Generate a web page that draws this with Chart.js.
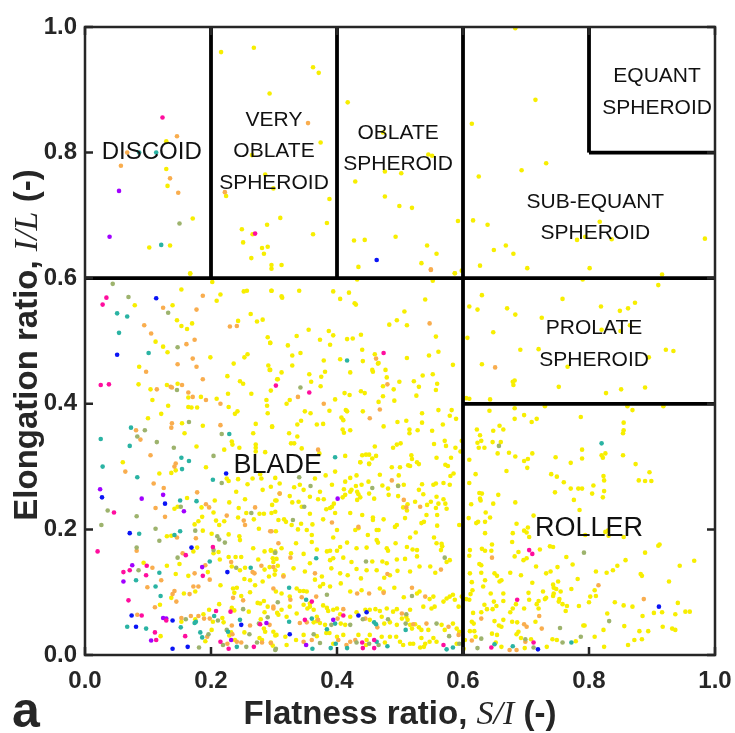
<!DOCTYPE html>
<html>
<head>
<meta charset="utf-8">
<script src="https://cdn.jsdelivr.net/npm/chart.js@4/dist/chart.umd.min.js"></script>
<style>html,body{margin:0;padding:0;background:#fff}</style>
</head>
<body>
<canvas id="chart" width="735" height="733"></canvas>
<script>
// [S/I, I/L] pairs, one array per marker colour

const yellowPts = [
  // discoid / very oblate / oblate / sub-equant / prolate
  [.129,.818],[.129,.774],[.131,.747],[.171,.695],[.102,.649],[.135,.652],[.167,.608],
  [.216,.960],[.268,.967],[.362,.936],[.371,.927],[.293,.894],[.374,.816],[.265,.796],[.286,.765],[.224,.731],[.299,.743],[.388,.726],[.310,.696],[.289,.685],[.384,.688],[.249,.678],[.266,.670],[.362,.670],[.251,.657],[.281,.648],[.290,.650],[.284,.639],[.264,.632],[.296,.621],[.296,.615],[.312,.621],
  [.417,.880],[.473,.832],[.545,.797],[.551,.795],[.476,.770],[.502,.767],[.429,.754],[.476,.730],[.499,.715],[.519,.712],[.592,.691],[.427,.660],[.444,.661],[.493,.666],[.543,.652],[.558,.639],[.534,.624],[.434,.618],[.587,.608],[.598,.612],
  [.614,.846],[.616,.692],[.625,.762],[.683,.998],[.715,.884],[.693,.772],[.732,.783],[.639,.685],[.817,.690],[.781,.661],[.794,.666],[.836,.662],[.984,.663],[.649,.645],[.668,.652],[.680,.639],[.627,.620],[.702,.616],[.801,.616],[.916,.606],
  [.630,.573],[.610,.555],[.623,.550],[.670,.552],[.683,.542],[.758,.567],[.819,.555],[.849,.548],[.862,.552],[.873,.561],[.910,.589],[.790,.598],[.725,.537],[.648,.514],[.607,.505],[.820,.518],[.850,.516],[.865,.525],[.691,.486],[.720,.487],[.922,.486],[.934,.484],[.630,.463],[.766,.459],[.679,.435],[.682,.437],[.680,.430],[.752,.427],[.827,.417],[.851,.423],[.889,.426],[.895,.474],[.605,.409],[.610,.408],[.643,.407],
  // roller
  [.642,.389],[.682,.393],[.730,.396],[.697,.382],[.717,.376],[.709,.371],[.682,.376],[.787,.379],[.855,.370],[.855,.358],[.854,.353],[.861,.396],[.869,.390],[.918,.396],[.622,.359],[.627,.350],[.648,.357],[.658,.365],[.664,.359],[.629,.341],[.623,.338],[.647,.339],[.660,.339],[.625,.330],[.634,.330],[.673,.322],[.683,.316],[.655,.321],[.697,.309],[.703,.312],[.710,.321],[.702,.298],[.610,.311],[.669,.293],[.747,.315],[.771,.306],[.789,.327],[.789,.313],[.820,.318],[.826,.321],[.822,.314],[.854,.318],[.874,.304],[.740,.288],[.749,.284],[.760,.275],[.823,.285],[.824,.278],[.879,.278],[.889,.277],[.899,.277],[.896,.291],[.620,.288],[.610,.274],[.746,.259],[.771,.265],[.783,.265],[.789,.265],[.807,.270],[.824,.261],[.805,.257],[.822,.251],[.776,.247],[.785,.231],[.626,.258],[.630,.257],[.627,.249],[.628,.246],[.648,.241],[.656,.255],[.683,.243],[.613,.240],[.609,.218],[.624,.212],[.635,.212],[.643,.219],[.636,.227],[.621,.210],[.685,.209],[.697,.198],[.701,.195],[.705,.188],[.703,.203],[.712,.222],[.826,.196],[.831,.190],[.830,.198],[.794,.191],[.855,.188],[.912,.176],[.910,.174],[.889,.163],[.722,.168],[.738,.173],[.743,.172],[.630,.169],[.635,.166],[.645,.166],[.688,.164],[.682,.157],[.701,.154],[.696,.151],[.610,.158],[.626,.145],[.629,.143],[.716,.141],[.750,.140],[.774,.144],[.764,.156],[.811,.133],[.828,.131],[.838,.135],[.845,.142],[.858,.151],[.882,.129],[.884,.126],[.927,.117],[.944,.142],[.967,.150],[.732,.130],[.739,.133],[.743,.112],[.744,.107],[.744,.098],[.751,.117],[.752,.085],[.772,.105],[.782,.121],[.809,.103],[.802,.093],[.811,.094],[.800,.084],[.841,.084],[.855,.079],[.869,.077],[.885,.062],[.903,.067],[.916,.068],[.941,.083],[.937,.065],[.953,.069],[.960,.069],[.917,.045],[.932,.042],[.937,.040],[.880,.038],[.884,.025],[.894,.038],[.872,.024],[.862,.016],[.856,.046],[.823,.040],[.829,.066],[.809,.029],[.824,.013],[.779,.022],[.763,.070],[.765,.078],[.753,.089],[.758,.081],[.730,.089],[.720,.086],[.717,.081],[.720,.074],[.715,.053],[.742,.025],[.749,.024],[.733,.013],[.697,.074],[.705,.088],[.684,.081],[.679,.074],[.675,.068],[.664,.086],[.649,.085],[.653,.078],[.647,.073],[.638,.073],[.634,.080],[.629,.068],[.616,.067],[.614,.053],[.617,.050],[.611,.038],[.618,.038],[.620,.029],[.646,.034],[.654,.032],[.657,.047],[.661,.045],[.664,.056],[.650,.054],[.678,.053],[.686,.052],[.688,.037],[.708,.025],[.698,.011],[.661,.013],[.652,.020],[.685,.033],[.692,.027],[.603,.024],[.601,.010],[.598,.093],[.610,.088],[.611,.130],[.614,.116],[.615,.103],[.612,.097],[.635,.119],[.650,.130],[.654,.126],[.658,.117],[.661,.119],[.675,.131],[.629,.131],[.664,.098],[.644,.098],[.632,.109],[.692,.127],[.710,.115],[.704,.099],[.727,.101],[.732,.091],[.743,.094],[.748,.105],[.755,.101],[.678,.180],[.646,.176],[.635,.194],[.679,.194],[.611,.167],[.605,.089],[.784,.078],[.791,.047],[.793,.047],
  // blade, upper left
  [.079,.557],[.139,.557],[.153,.582],[.202,.594],[.167,.607],[.215,.574],[.209,.564],[.252,.579],[.257,.580],[.296,.580],[.263,.543],[.282,.534],[.273,.531],[.243,.532],[.146,.533],[.153,.524],[.162,.519],[.170,.528],[.112,.499],[.124,.491],[.131,.482],[.199,.474],[.086,.459],[.236,.464],[.253,.474],[.258,.479],[.290,.506],[.294,.497],[.291,.461],[.293,.454],[.305,.439],[.226,.444],[.246,.436],[.251,.432],[.085,.431],[.104,.423],[.130,.430],[.147,.432],[.164,.410],[.184,.411],[.209,.408],[.227,.416],[.264,.416],[.295,.421],[.288,.406],[.289,.397],[.290,.385],[.107,.406],[.132,.397],[.121,.384],[.100,.377],[.164,.395],[.169,.394],[.178,.394],[.228,.395],[.238,.384],[.242,.388],[.154,.369],[.187,.365],[.271,.368],[.297,.363],[.158,.353],[.267,.353],[.233,.340],[.234,.335],[.245,.330],[.221,.327],[.271,.335],[.271,.330],[.271,.324],[.286,.323],[.177,.332],[.060,.307],[.192,.299],
  // blade, lower left
  [.118,.289],[.137,.290],[.144,.294],[.225,.281],[.228,.277],[.243,.280],[.258,.272],[.278,.288],[.280,.281],[.266,.281],[.295,.268],[.309,.257],[.282,.263],[.162,.250],[.147,.236],[.142,.233],[.185,.235],[.206,.246],[.204,.227],[.186,.220],[.229,.243],[.240,.260],[.254,.248],[.244,.234],[.256,.226],[.243,.219],[.277,.225],[.284,.225],[.302,.246],[.297,.239],[.296,.226],[.221,.213],[.208,.214],[.213,.207],[.180,.213],[.174,.208],[.187,.198],[.268,.216],[.276,.201],[.303,.197],[.130,.189],[.137,.190],[.201,.193],[.228,.192],[.245,.189],[.246,.183],[.267,.170],[.285,.165],[.295,.166],[.302,.165],[.298,.154],[.304,.153],[.172,.165],[.178,.171],[.204,.162],[.212,.164],[.214,.152],[.228,.156],[.239,.156],[.248,.156],[.275,.152],[.233,.141],[.254,.139],[.246,.135],[.285,.136],[.293,.140],[.299,.148],[.306,.142],[.093,.147],[.130,.142],[.150,.145],[.144,.129],[.164,.126],[.195,.132],[.215,.111],[.253,.121],[.262,.119],[.270,.111],[.282,.117],[.292,.125],[.301,.128],[.175,.101],[.157,.098],[.137,.091],[.119,.080],[.213,.081],[.197,.072],[.237,.099],[.235,.106],[.241,.107],[.248,.094],[.262,.100],[.274,.083],[.278,.082],[.284,.086],[.290,.077],[.233,.075],[.237,.071],[.260,.069],[.218,.059],[.285,.068],[.279,.057],[.305,.067],[.153,.053],[.175,.057],[.188,.065],[.203,.053],[.220,.052],[.120,.030],[.191,.022],[.201,.040],[.232,.036],[.229,.031],[.253,.036],[.284,.042],[.302,.031],[.277,.027],[.281,.024],[.286,.037],[.238,.024],[.295,.020],[.298,.015],
  // blade, lower right
  [.451,.304],[.437,.307],[.487,.299],[.516,.301],[.527,.307],[.530,.304],[.572,.303],[.585,.289],[.580,.285],[.498,.286],[.468,.287],[.421,.282],[.431,.286],[.413,.276],[.397,.292],[.382,.286],[.365,.281],[.302,.282],[.309,.273],[.332,.267],[.341,.271],[.347,.263],[.373,.260],[.392,.271],[.411,.264],[.423,.263],[.430,.269],[.439,.271],[.450,.276],[.472,.270],[.497,.270],[.506,.271],[.535,.272],[.530,.263],[.553,.271],[.557,.273],[.569,.274],[.579,.271],[.481,.265],[.537,.256],[.558,.252],[.569,.248],[.572,.241],[.574,.233],[.304,.246],[.325,.253],[.339,.244],[.329,.243],[.357,.252],[.344,.236],[.357,.225],[.370,.248],[.379,.248],[.395,.241],[.383,.232],[.389,.234],[.392,.236],[.397,.226],[.413,.255],[.409,.251],[.421,.260],[.432,.260],[.434,.256],[.432,.247],[.437,.251],[.451,.257],[.459,.249],[.482,.255],[.497,.253],[.505,.235],[.512,.240],[.524,.244],[.543,.239],[.549,.244],[.561,.241],[.557,.234],[.542,.223],[.559,.223],[.302,.228],[.316,.216],[.319,.212],[.307,.215],[.328,.207],[.338,.200],[.343,.209],[.352,.199],[.361,.208],[.378,.216],[.400,.199],[.394,.187],[.360,.191],[.335,.178],[.312,.170],[.295,.167],[.301,.163],[.434,.202],[.429,.199],[.421,.226],[.440,.223],[.457,.219],[.457,.215],[.474,.216],[.463,.199],[.466,.199],[.495,.207],[.492,.204],[.508,.218],[.511,.230],[.525,.195],[.534,.210],[.538,.212],[.559,.206],[.594,.207],[.554,.187],[.558,.178],[.566,.177],[.567,.173],[.565,.167],[.516,.187],[.511,.172],[.520,.168],[.527,.167],[.493,.178],[.479,.170],[.481,.166],[.463,.183],[.465,.179],[.449,.191],[.431,.170],[.447,.171],[.416,.179],[.405,.172],[.400,.166],[.389,.166],[.384,.165],[.368,.168],[.360,.180],[.347,.161],[.327,.162],[.357,.146],[.389,.151],[.394,.154],[.410,.155],[.423,.148],[.431,.137],[.456,.149],[.472,.149],[.479,.146],[.495,.152],[.508,.153],[.527,.157],[.574,.148],[.579,.151],[.548,.141],[.556,.131],[.531,.141],[.516,.133],[.496,.134],[.484,.127],[.475,.123],[.463,.135],[.447,.135],[.438,.122],[.417,.127],[.405,.130],[.391,.138],[.376,.125],[.365,.120],[.349,.133],[.331,.138],[.315,.127],[.302,.135],[.303,.101],[.312,.098],[.325,.093],[.336,.106],[.341,.102],[.347,.102],[.352,.101],[.357,.082],[.373,.109],[.378,.113],[.389,.109],[.406,.114],[.421,.101],[.439,.103],[.468,.106],[.474,.101],[.491,.107],[.506,.092],[.527,.098],[.531,.101],[.547,.089],[.553,.093],[.569,.085],[.574,.090],[.579,.093],[.584,.096],[.587,.088],[.593,.077],[.550,.074],[.555,.077],[.537,.077],[.516,.072],[.510,.061],[.512,.056],[.489,.069],[.495,.073],[.479,.074],[.468,.070],[.461,.073],[.452,.072],[.445,.072],[.431,.068],[.421,.061],[.405,.065],[.394,.072],[.400,.074],[.386,.070],[.384,.075],[.378,.079],[.357,.077],[.363,.072],[.368,.061],[.347,.080],[.353,.074],[.336,.066],[.325,.077],[.312,.072],[.320,.061],[.307,.064],[.363,.052],[.368,.054],[.373,.051],[.381,.048],[.406,.050],[.413,.048],[.452,.056],[.471,.061],[.475,.050],[.484,.052],[.495,.048],[.503,.058],[.516,.048],[.524,.049],[.519,.042],[.530,.044],[.534,.040],[.545,.040],[.566,.048],[.571,.040],[.584,.050],[.590,.042],[.594,.037],[.299,.037],[.304,.032],[.318,.029],[.347,.032],[.335,.024],[.368,.030],[.383,.035],[.388,.035],[.400,.029],[.410,.032],[.434,.032],[.447,.024],[.452,.032],[.471,.029],[.476,.020],[.484,.029],[.494,.029],[.500,.021],[.516,.018],[.521,.018],[.534,.027],[.540,.018],[.547,.021],[.553,.027],[.558,.021],[.590,.018],[.394,.018],[.446,.016],[.505,.016],[.532,.012],[.538,.013],[.320,.016],
  // blade, upper right
  [.432,.598],[.587,.608],[.552,.596],[.296,.580],[.312,.571],[.313,.569],[.340,.580],[.394,.579],[.419,.577],[.405,.567],[.428,.560],[.430,.558],[.540,.566],[.507,.547],[.495,.533],[.483,.526],[.511,.525],[.557,.507],[.355,.518],[.387,.516],[.394,.509],[.336,.508],[.373,.502],[.416,.503],[.425,.504],[.438,.510],[.322,.493],[.389,.494],[.440,.486],[.342,.481],[.329,.477],[.379,.469],[.405,.471],[.441,.468],[.460,.479],[.465,.464],[.466,.465],[.511,.473],[.546,.477],[.561,.483],[.584,.462],[.294,.497],[.329,.461],[.294,.454],[.312,.450],[.306,.439],[.356,.447],[.359,.435],[.381,.451],[.375,.443],[.421,.450],[.456,.454],[.457,.451],[.477,.454],[.479,.442],[.499,.435],[.473,.428],[.522,.436],[.536,.445],[.552,.447],[.559,.432],[.530,.427],[.557,.422],[.374,.428],[.320,.400],[.325,.406],[.397,.407],[.412,.417],[.420,.414],[.438,.420],[.444,.417],[.490,.423],[.473,.412],[.466,.403],[.491,.405],[.526,.413],[.349,.388],[.358,.385],[.388,.389],[.414,.390],[.416,.388],[.407,.378],[.410,.374],[.441,.388],[.409,.359],[.411,.354],[.421,.358],[.337,.367],[.343,.373],[.368,.367],[.378,.368],[.297,.364],[.324,.353],[.337,.348],[.327,.337],[.332,.337],[.344,.329],[.474,.364],[.496,.371],[.510,.373],[.515,.359],[.515,.353],[.528,.358],[.535,.385],[.535,.370],[.551,.357],[.568,.367],[.579,.381],[.582,.390],[.589,.376],[.561,.390],[.460,.332],[.489,.330],[.495,.335],[.501,.337],[.518,.318],[.519,.312],[.554,.336],[.571,.341],[.573,.333],[.588,.330],[.581,.314],[.558,.314],[.596,.324],[.440,.318],[.446,.319],[.451,.319],[.462,.317],[.456,.313],[.437,.307],[.451,.305],[.413,.317],[.372,.321],[.513,.302],[.500,.299],[.576,.301],[.598,.341]
];

const orangePts = [
  [.146,.826],[.067,.800],[.057,.779],[.135,.759],[.148,.736],[.354,.847],[.222,.737],[.549,.614],[.651,.458],
  [.646,.155],[.815,.111],[.887,.089],[.629,.058],[.614,.023],[.721,.062],[.725,.042],[.697,.049],[.701,.045],[.699,.021],[.674,.008],[.685,.008],
  [.124,.553],[.187,.572],[.177,.550],[.230,.523],[.241,.524],[.094,.525],[.105,.512],[.161,.495],[.174,.502],[.171,.472],[.177,.459],[.147,.463],[.097,.451],[.187,.439],[.114,.423],[.136,.427],[.138,.426],[.154,.430],[.164,.418],[.171,.411],[.192,.406],[.215,.400],[.138,.369],[.137,.362],[.215,.366],[.081,.358],[.088,.343],[.104,.318],[.144,.305],[.142,.300],
  [.064,.292],[.109,.273],[.125,.266],[.178,.259],[.112,.234],[.127,.220],[.192,.240],[.197,.235],[.252,.214],[.254,.207],[.270,.235],[.296,.197],[.307,.178],[.225,.222],[.146,.187],[.176,.186],[.082,.166],[.155,.162],[.232,.148],[.280,.142],[.269,.130],[.266,.132],[.299,.140],[.107,.139],[.121,.119],[.174,.130],[.191,.143],[.198,.120],[.172,.109],[.180,.109],[.166,.097],[.142,.102],[.139,.097],[.145,.085],[.099,.108],[.111,.076],[.299,.106],[.235,.091],[.251,.087],[.299,.074],[.083,.064],[.153,.059],[.168,.062],[.180,.062],[.189,.058],[.198,.058],[.194,.029],[.233,.047],[.262,.047],[.293,.048],[.226,.018],[.234,.033],[.241,.021],[.248,.020],[.281,.020],
  [.487,.278],[.309,.257],[.506,.247],[.510,.235],[.532,.236],[.392,.211],[.294,.197],[.434,.204],[.326,.155],[.565,.136],[.480,.129],[.365,.130],[.315,.125],[.326,.088],[.344,.092],[.367,.093],[.432,.098],[.451,.098],[.519,.107],[.540,.093],[.503,.066],[.299,.077],[.410,.073],[.401,.058],[.445,.058],[.341,.051],[.352,.052],[.464,.044],[.542,.050],[.577,.045],[.593,.032],[.347,.021],[.360,.024],[.402,.024],[.421,.021],[.429,.024],[.415,.016],[.295,.019],[.370,.056],[.521,.049],[.474,.099],
  [.549,.613],[.547,.528],[.462,.472],[.480,.431],[.338,.411],[.379,.400],[.468,.391],[.452,.377],[.370,.327]
];

const olivePts = [
  [.150,.687],
  [.657,.333],[.792,.163],[.832,.054],[.787,.029],[.754,.043],[.758,.020],[.629,.026],[.699,.025],[.623,.011],[.712,.012],
  [.044,.591],[.069,.570],[.132,.545],[.147,.490],[.146,.422],[.165,.371],[.095,.358],[.083,.348],[.114,.339],[.217,.352],[.141,.330],[.204,.317],
  [.217,.274],[.152,.236],[.036,.230],[.082,.221],[.175,.198],[.026,.207],[.112,.201],[.264,.226],[.118,.182],[.210,.189],[.213,.184],[.222,.179],[.082,.171],[.204,.167],[.147,.155],[.240,.139],[.085,.135],[.306,.084],[.251,.073],[.290,.060],[.160,.057],[.211,.055],[.196,.033],[.225,.040],[.261,.033],[.276,.050],[.219,.016],[.256,.013],[.273,.020],[.303,.010],[.181,.012],
  [.340,.283],[.358,.269],[.456,.266],[.497,.269],[.348,.236],[.330,.215],[.302,.163],[.446,.149],[.571,.155],[.384,.096],[.519,.094],[.510,.065],[.391,.048],[.421,.048],[.509,.050],[.558,.050],[.363,.033],[.431,.020],[.451,.018],[.466,.016],[.578,.030],[.594,.018],[.373,.019],[.302,.008],[.481,.057],[.441,.057],
  [.342,.426]
];

const tealPts = [
  [.086,.800],[.113,.800],[.121,.653],
  [.820,.337],[.772,.020],[.650,.017],[.679,.014],
  [.051,.544],[.067,.539],[.054,.513],[.101,.481],[.073,.362],[.071,.333],[.229,.352],[.025,.344],[.153,.314],[.165,.309],[.028,.300],
  [.083,.283],[.154,.296],[.203,.279],[.151,.246],[.177,.245],[.086,.193],[.142,.191],[.151,.197],[.263,.139],[.118,.131],[.081,.119],[.198,.149],[.120,.094],[.112,.109],[.205,.062],[.174,.051],[.176,.053],[.067,.045],[.097,.042],[.152,.044],[.183,.036],[.186,.028],[.227,.037],[.246,.056],[.241,.013],
  [.367,.154],[.324,.107],[.351,.088],[.324,.053],[.360,.058],[.397,.050],[.459,.052],[.462,.049],[.509,.040],[.384,.041],[.463,.021],[.574,.009],[.584,.012],[.361,.010],[.390,.011],[.398,.018],[.416,.011],[.480,.014],
  [.416,.469],[.397,.315]
];

const bluePts = [
  [.463,.629],[.911,.077],[.719,.009],[.113,.568],[.051,.478],
  [.224,.289],[.027,.251],[.127,.241],[.071,.194],[.169,.171],[.226,.132],[.074,.063],[.139,.055],[.081,.045],[.248,.048],[.139,.010],[.163,.013],
  [.434,.063],[.447,.068],[.325,.033]
];

const purplePts = [
  [.054,.739],[.039,.666],
  [.024,.264],[.124,.255],[.090,.249],[.157,.229],[.075,.143],[.061,.117],[.186,.140],[.124,.059],[.129,.058],[.105,.023],[.288,.051],[.232,.024],
  [.401,.249],[.394,.056],[.351,.016]
];

const magentaPts = [
  [.123,.856],[.270,.671],
  [.705,.167],[.710,.161],[.686,.088],[.712,.020],[.645,.012],
  [.034,.569],[.028,.558],[.025,.430],[.038,.431],[.303,.429],
  [.046,.227],[.020,.165],[.203,.172],[.160,.159],[.098,.142],[.071,.135],[.061,.132],[.097,.127],[.187,.126],[.069,.087],[.090,.063],[.129,.055],[.208,.070],[.231,.069],[.111,.036],[.113,.024],[.159,.030],[.278,.049],[.215,.021],[.268,.013],[.228,.010],
  [.349,.056],[.360,.085],[.410,.063],[.440,.020],[.459,.024],[.569,.016],[.441,.011],[.459,.011],
  [.474,.481],[.356,.418]
];

const xTicks = [0, 0.2, 0.4, 0.6, 0.8, 1.0];
const yTicks = [0, 0.2, 0.4, 0.6, 0.8, 1.0];

// class boundaries (S/I, I/L)
const boundaries = [
  [[0, 0.6], [1, 0.6]],
  [[0.2, 0.6], [0.2, 1]],
  [[0.4, 0.6], [0.4, 1]],
  [[0.6, 0], [0.6, 1]],
  [[0.6, 0.4], [1, 0.4]],
  [[0.8, 0.8], [0.8, 1]],
  [[0.8, 0.8], [1, 0.8]]
];

const classNames = [
  { lines: ['DISCOID'], x: 0.106, y: 0.801, size: 24 },
  { lines: ['VERY', 'OBLATE', 'SPHEROID'], x: 0.300, y: 0.802, size: 21 },
  { lines: ['OBLATE', 'SPHEROID'], x: 0.497, y: 0.806, size: 21 },
  { lines: ['EQUANT', 'SPHEROID'], x: 0.908, y: 0.896, size: 21 },
  { lines: ['SUB-EQUANT', 'SPHEROID'], x: 0.810, y: 0.696, size: 21 },
  { lines: ['PROLATE', 'SPHEROID'], x: 0.808, y: 0.495, size: 21 },
  { lines: ['BLADE'], x: 0.306, y: 0.301, size: 27 },
  { lines: ['ROLLER'], x: 0.800, y: 0.201, size: 27 }
];

const SANS = "'Liberation Sans', Arial, Helvetica, sans-serif";
const SERIF = "'Liberation Serif', 'DejaVu Serif', serif";
const AXIS = '#262626';

const toXY = pts => pts.map(([x, y]) => ({ x, y }));

const pointSet = (pts, color, order) => ({
  data: toXY(pts),
  backgroundColor: color,
  borderWidth: 0,
  pointRadius: 2.3,
  pointHoverRadius: 2.3,
  order,
});

const datasets = [
  ...boundaries.map(seg => ({
    data: toXY(seg),
    showLine: true,
    borderColor: '#000',
    borderWidth: 3.8,
    pointRadius: 0,
    order: 0,
  })),
  pointSet(magentaPts, '#ff0d9e', 1),
  pointSet(bluePts, '#0a14f5', 2),
  pointSet(purplePts, '#a100ff', 3),
  pointSet(tealPts, '#2ab3a3', 4),
  pointSet(olivePts, '#9db36d', 5),
  pointSet(orangePts, '#f9ad4e', 6),
  pointSet(yellowPts, '#f7ee00', 7),
];

// draw a run of text pieces in different fonts, centred on x
const drawRun = (ctx, parts, x, y) => {
  let w = 0;
  parts.forEach(([t, f]) => { ctx.font = f; w += ctx.measureText(t).width; });
  let cx = x - w / 2;
  ctx.textAlign = 'left';
  parts.forEach(([t, f]) => { ctx.font = f; ctx.fillText(t, cx, y); cx += ctx.measureText(t).width; });
};

const decor = {
  id: 'decor',
  afterDatasetsDraw(chart) {
    const { ctx, chartArea: a, scales: { x, y } } = chart;
    ctx.save();

    // class names
    ctx.fillStyle = '#111';
    ctx.textAlign = 'center';
    ctx.textBaseline = 'middle';
    classNames.forEach((c) => {
      ctx.font = `${c.size}px ${SANS}`;
      const step = c.size * 1.5;
      const top = y.getPixelForValue(c.y) - step * (c.lines.length - 1) / 2;
      c.lines.forEach((t, i) => ctx.fillText(t, x.getPixelForValue(c.x), top + i * step));
    });

    // box + inward ticks
    ctx.strokeStyle = AXIS;
    ctx.lineWidth = 2.5;
    ctx.strokeRect(a.left, a.top, a.right - a.left, a.bottom - a.top);
    const len = 8;
    ctx.beginPath();
    xTicks.forEach((v) => {
      const px = x.getPixelForValue(v);
      ctx.moveTo(px, a.bottom); ctx.lineTo(px, a.bottom - len);
      ctx.moveTo(px, a.top); ctx.lineTo(px, a.top + len);
    });
    yTicks.forEach((v) => {
      const py = y.getPixelForValue(v);
      ctx.moveTo(a.left, py); ctx.lineTo(a.left + len, py);
      ctx.moveTo(a.right, py); ctx.lineTo(a.right - len, py);
    });
    ctx.stroke();

    // tick labels
    ctx.fillStyle = AXIS;
    ctx.font = `bold 24px ${SANS}`;
    ctx.textBaseline = 'middle';
    ctx.textAlign = 'center';
    xTicks.forEach(v => ctx.fillText(v.toFixed(1), x.getPixelForValue(v), a.bottom + 26));
    ctx.textAlign = 'right';
    yTicks.forEach(v => ctx.fillText(v.toFixed(1), a.left - 8, y.getPixelForValue(v)));

    // axis titles
    ctx.textBaseline = 'alphabetic';
    const bold = `bold 33px ${SANS}`;
    const ital = `italic 34px ${SERIF}`;
    drawRun(ctx, [['Flatness ratio, ', bold], ['S/I', ital], [' (-)', bold]], (a.left + a.right) / 2, 724);
    ctx.save();
    ctx.translate(37, (a.top + a.bottom) / 2 + 4);
    ctx.rotate(-Math.PI / 2);
    drawRun(ctx, [['Elongation ratio, ', bold], ['I/L', ital], [' (-)', bold]], 0, 0);
    ctx.restore();

    // panel letter
    ctx.font = `bold 50px ${SANS}`;
    ctx.textAlign = 'left';
    ctx.fillText('a', 12, 727);
    ctx.restore();
  },
};

new Chart(document.getElementById('chart'), {
  type: 'scatter',
  data: { datasets },
  options: {
    responsive: false,
    devicePixelRatio: 1,
    animation: false,
    events: [],
    layout: { padding: { left: 0, right: 20, top: 27, bottom: 0 } },
    plugins: { legend: { display: false }, tooltip: { enabled: false } },
    scales: {
      x: {
        type: 'linear', min: 0, max: 1,
        grid: { display: false }, border: { display: false },
        ticks: { display: false },
        afterFit: (s) => { s.height = 78; },
      },
      y: {
        type: 'linear', min: 0, max: 1,
        grid: { display: false }, border: { display: false },
        ticks: { display: false },
        afterFit: (s) => { s.width = 85; },
      },
    },
  },
  plugins: [decor],
});
</script>
</body>
</html>
